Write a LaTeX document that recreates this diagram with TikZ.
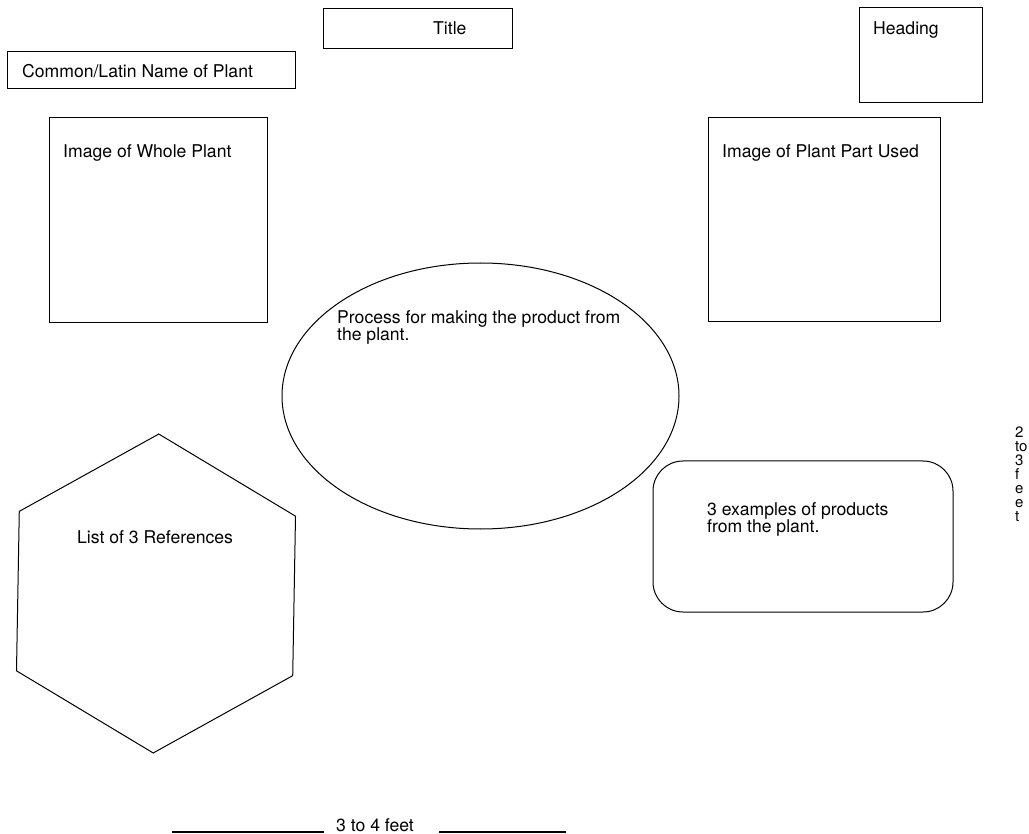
\documentclass[tikz,border=0pt]{standalone}
\usepackage{fontspec}
\setmainfont{TeX Gyre Heros}
\usetikzlibrary{shapes.geometric}
\tikzset{
  outline/.style={draw=black,line width=1pt,inner sep=0pt,outer sep=0pt},
  framebox/.style={outline,rectangle,anchor=north west},
  caption/.style={anchor=base west,inner sep=0pt,align=left,font=\fontsize{17.6}{17}\selectfont},
}
\begin{document}
\begin{tikzpicture}[x=1pt,y=-1pt]
  \useasboundingbox (0,0) rectangle (1029,834);
  \node[framebox,minimum width=189pt,minimum height=40pt] (titlebox) at (323,9) {};
  \node[framebox,minimum width=288pt,minimum height=37pt] (namebox) at (7,52) {};
  \node[framebox,minimum width=218pt,minimum height=205pt] (wholebox) at (49,118) {};
  \node[framebox,minimum width=123pt,minimum height=95pt] (headbox) at (859,8) {};
  \node[framebox,minimum width=232pt,minimum height=204pt] (partbox) at (708,118) {};
  \node[framebox,rounded corners=30pt,minimum width=300pt,minimum height=151pt] (productbox) at (653,461) {};
  \node[outline,ellipse,minimum width=397pt,minimum height=266pt] (processoval) at (480.5,396) {};
  \node[outline,regular polygon,regular polygon sides=6,shape border rotate=29,minimum size=319pt] (refhex) at (156,593.5) {};
  \node[caption] (titletext) at (433,35) {Title};
  \node[caption] (nametext) at (22,78) {Common/Latin Name of Plant};
  \node[caption] (wholetext) at (63,158) {Image of Whole Plant};
  \node[caption] (headtext) at (873,35) {Heading};
  \node[caption] (parttext) at (722,158) {Image of Plant Part Used};
  \node[caption] (processtext) at (337,341) {Process for making the product from\\the plant.};
  \node[caption] (producttext) at (707,532) {3 examples of products\\from the plant.};
  \node[caption] (reftext) at (77,543) {List of 3 References};
  \node[caption] (feettext) at (336,831) {3 to 4 feet};
  \node[caption,font=\fontsize{15}{14}\selectfont] (sidetext) at (1015,521) {2\\to\\3\\f\\e\\e\\t};
  \coordinate (ruleA) at (172,832);
  \coordinate (ruleB) at (324,832);
  \coordinate (ruleC) at (439,832);
  \coordinate (ruleD) at (566,832);
  \draw[line width=1.3pt] (ruleA) -- (ruleB);
  \draw[line width=1.3pt] (ruleC) -- (ruleD);
\end{tikzpicture}
\end{document}
